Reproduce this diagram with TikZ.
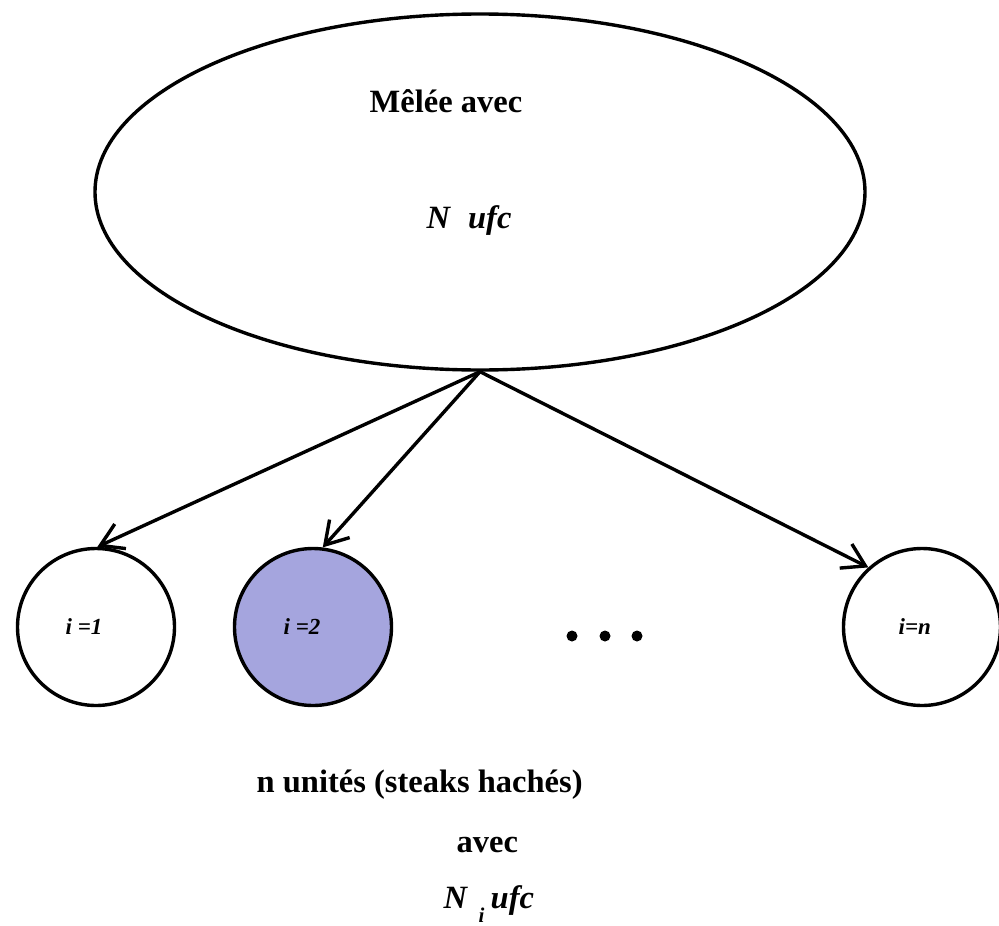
\documentclass[tikz,border=0pt]{standalone}
\usepackage{fontspec}
\setmainfont{Liberation Serif}
\usetikzlibrary{arrows.meta,shapes.geometric}
\definecolor{lav}{RGB}{165,165,222}
\begin{document}
\begin{tikzpicture}[x=1pt,y=-1pt,
  line width=3.4pt,
  unit/.style={circle,draw,minimum size=157pt,inner sep=0pt},
  txt/.style={inner sep=0pt,anchor=base west,font=\fontsize{32.5}{38}\selectfont\bfseries},
  itx/.style={inner sep=0pt,anchor=base west,font=\fontsize{32.5}{38}\selectfont\bfseries\itshape},
  sub/.style={inner sep=0pt,anchor=base west,font=\fontsize{21}{24}\selectfont\bfseries\itshape},
  lab/.style={inner sep=0pt,anchor=base west,font=\fontsize{23}{27}\selectfont\bfseries\itshape},
  arr/.style={-{Straight Barb[length=22pt,width=27pt]}},
  dotn/.style={circle,fill,inner sep=0pt,minimum size=11pt}]
\useasboundingbox (0,0) rectangle (999,926);
\node[draw,ellipse,minimum width=770pt,minimum height=356pt,inner sep=0pt] (mel) at (480,192) {};
\node[txt] (t1) at (368,112) {Mêlée avec};
\node[itx] (t2) at (425,228) {N\hspace{18pt}ufc};
\node[unit] (c1) at (96,627) {};
\node[unit,fill=lav] (c2) at (313,627) {};
\node[unit] (cn) at (922,627) {};
\node[lab] (l1) at (64,634) {i =1};
\node[lab] (l2) at (282,634) {i =2};
\node[lab] (ln) at (897,634) {i=n};
\node[dotn] (d1) at (572,636) {};
\node[dotn] (d2) at (605,636) {};
\node[dotn] (d3) at (637,636) {};
\draw[arr] (mel.south) -- (c1.89);
\draw[arr] (mel.south) -- (c2.83);
\draw[arr] (mel.south) -- (cn.132);
\node[txt] (b1) at (255,792) {n unités (steaks hachés)};
\node[txt] (b2) at (455,852) {avec};
\node[itx] (b3) at (442,908) {N};
\node[sub] (b4) at (477,922) {i};
\node[itx] (b5) at (489,908) {ufc};
\end{tikzpicture}
\end{document}
